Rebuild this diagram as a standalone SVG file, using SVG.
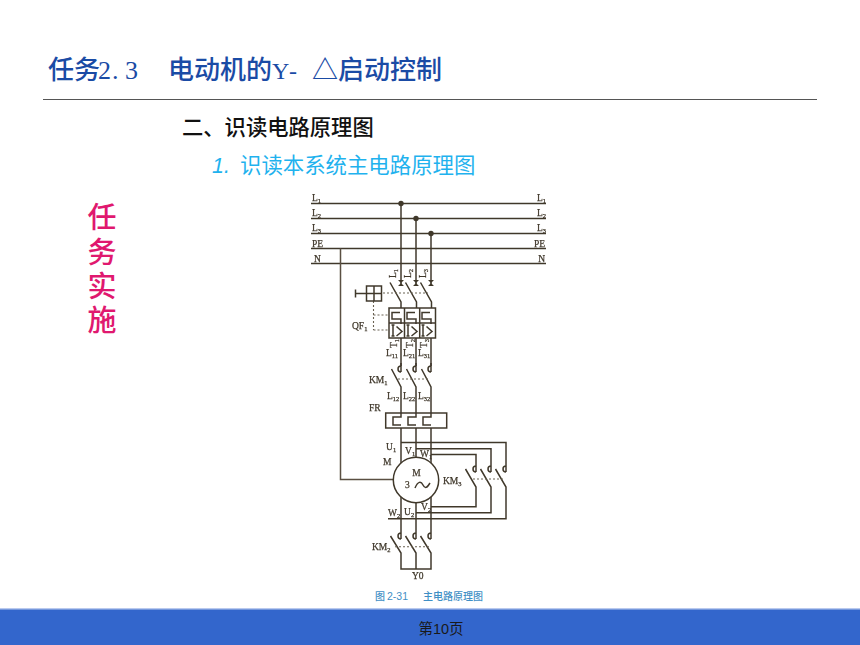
<svg xmlns="http://www.w3.org/2000/svg" xmlns:xlink="http://www.w3.org/1999/xlink" width="860" height="645" viewBox="0 0 860 645">
<style>
.cjk{font-family:"Noto Sans CJK SC","Noto Sans",sans-serif}
.ttl{fill:#1a4ba5;font-size:26px;font-weight:500}
.ttm{fill:#1a4ba5;font-family:"Liberation Serif",serif;font-size:26px;font-weight:500}
.sec{fill:#111;font-size:21.300px;font-weight:500}
.sub{fill:#1fb2ee;font-size:21.400px}
.side{fill:#e0186f;font-size:29px;font-weight:500;text-anchor:middle}
.w{fill:none;stroke:#5a5042;stroke-width:1.500}
.k{fill:none;stroke:#40392c;stroke-width:1.500}
.d{fill:none;stroke:#6a6252;stroke-width:1.100;stroke-dasharray:2 2}
.t{fill:#40392c;stroke:#40392c;stroke-width:.25;font-family:"Liberation Serif",serif;font-size:9.500px}
.t tspan{font-size:6.500px}
.e{text-anchor:end}
</style>
<defs>
<filter id="soft" x="0" y="0" width="100%" height="100%"><feGaussianBlur stdDeviation="0.35"/></filter>
<path id="contact" class="k" d="M0,-3a3,3 0 0 0 0,6M0,-6V3"/>
<path id="bow" fill="#40392c" d="M-3,-3H3L-3,3H3Z"/>
<g id="cell"><path class="k" d="M-1,4.500H-9V11H0V16"/><path class="k" d="M-8,17V28M-9.500,17H-6.500M-9.500,28H-6.500M-4.500,18.500L1,23.500L-4.500,28"/></g>
<path id="heater" class="k" d="M0,0V4H-8V12H0"/>
</defs>
<rect width="860" height="645" fill="#fff"/>
<g id="header">
<text class="cjk ttl" x="48" y="79">任务</text>
<text class="ttm" x="98 112 125" y="79">2.3</text>
<text class="cjk ttl" x="168" y="79">电动机的</text>
<text class="ttm" x="272 289" y="79" style="font-size:24px">Y-</text>
<text class="cjk ttl" x="312" y="79">△启动控制</text>
<line x1="43" y1="99.500" x2="817" y2="99.500" stroke="#555" stroke-width="1.200"/>
<text class="cjk sec" x="182" y="135">二、识读电路原理图</text>
<text class="sub" style="font-family:'Liberation Sans',sans-serif;font-style:italic" x="212" y="173">1.</text>
<text class="cjk sub" x="240" y="173">识读本系统主电路原理图</text>
</g>
<g id="side-label" class="cjk">
<text class="side" x="102 102 102 102" y="228 263 297 331">任务实施</text>
</g>
<g id="schematic" filter="url(#soft)">
<g id="connectors">
<path class="k" d="M311,203.500H546M311,218.500H546M311,233.500H546M311,248.500H546M311,263.500H546"/>
<path class="w" d="M340.500,248.500V479.500H393.500"/>
<path class="k" d="M401,203.500V285M416,218.500V285M431,233.500V285"/>
<path class="k" d="M390,282.500L401,302V308M405.500,282.500L416.500,302V308M420.500,282.500L431.500,302V308"/>
<path class="k" d="M401,338V366M416,338V366M431,338V366"/>
<path class="k" d="M391.500,369L401,387V413M406.500,369L416,387V413M421.500,369L431,387V413"/>
<path class="k" d="M401,428V463M416,428V457M431,428V463"/>
<path class="k" d="M401,442.500H506V463M416,448.700H491V463M431,454.500H476V463"/>
<path class="k" d="M465.500,469L476,487V506.700H431M480.500,469L491,487V512.700H416M495.500,469L506,487V518.700H388"/>
<path class="k" d="M401,497V530M416,503V530M431,497V530"/>
<path class="k" d="M390.500,536L401,553V569H431V553L420.500,536M405.500,536L416,553V569"/>
<path class="d" d="M383,293H428M373.500,301V330M373.500,315H389M373.500,330H389M398,379H428M473,479H505M395,546.700H430"/>
</g>
<g id="bus-labels">
<text class="t" x="312" y="201">L<tspan dy="2">1</tspan></text>
<text class="t" x="312" y="215.500">L<tspan dy="2">2</tspan></text>
<text class="t" x="312" y="230.500">L<tspan dy="2">3</tspan></text>
<text class="t" x="312" y="246.500">PE</text>
<text class="t" x="314" y="261.500">N</text>
<text class="t e" x="546" y="201">L<tspan dy="2">1</tspan></text>
<text class="t e" x="546" y="215.500">L<tspan dy="2">2</tspan></text>
<text class="t e" x="546" y="230.500">L<tspan dy="2">3</tspan></text>
<text class="t e" x="545" y="246.500">PE</text>
<text class="t e" x="545" y="261.500">N</text>
</g>
<g id="junctions" fill="#40392c">
<circle cx="401" cy="203.500" r="2.700"/>
<circle cx="416" cy="218.500" r="2.700"/>
<circle cx="431" cy="233.500" r="2.700"/>
</g>
<g id="qf1-input">
<use xlink:href="#bow" href="#bow" x="401" y="283"/>
<use xlink:href="#bow" href="#bow" x="416" y="283"/>
<use xlink:href="#bow" href="#bow" x="431" y="283"/>
<text class="t" transform="translate(396,278) rotate(-90)">L<tspan dy="2">1</tspan></text>
<text class="t" transform="translate(411,278) rotate(-90)">L<tspan dy="2">2</tspan></text>
<text class="t" transform="translate(426,278) rotate(-90)">L<tspan dy="2">3</tspan></text>
</g>
<g id="qf1-handle">
<path class="k" d="M355.500,289.500V297.500M355.500,293.500H366.500"/>
<rect class="k" x="366.500" y="286" width="15" height="15"/>
<path class="k" d="M374,286V301M366.500,293.500H381.500"/>
</g>
<g id="qf1-breaker">
<rect class="k" x="389" y="308" width="46.500" height="30"/>
<path class="k" d="M389,323H435.500M404.500,308V338M419.700,308V338"/>
<use xlink:href="#cell" href="#cell" x="401" y="308"/>
<use xlink:href="#cell" href="#cell" x="416" y="308"/>
<use xlink:href="#cell" href="#cell" x="431" y="308"/>
<text class="t" x="352" y="329">QF<tspan dy="2">1</tspan></text>
<text class="t" transform="translate(397,348) rotate(-90)">T<tspan dy="2">1</tspan></text>
<text class="t" transform="translate(413,348) rotate(-90)">T<tspan dy="2">2</tspan></text>
<text class="t" transform="translate(427,348) rotate(-90)">T<tspan dy="2">3</tspan></text>
<text class="t" x="386" y="356">L<tspan dy="2">11</tspan></text>
<text class="t" x="403" y="356">L<tspan dy="2">21</tspan></text>
<text class="t" x="418" y="356">L<tspan dy="2">31</tspan></text>
</g>
<g id="km1">
<use xlink:href="#contact" href="#contact" x="401" y="369"/>
<use xlink:href="#contact" href="#contact" x="416" y="369"/>
<use xlink:href="#contact" href="#contact" x="431" y="369"/>
<text class="t" x="369" y="383">KM<tspan dy="2">1</tspan></text>
<text class="t" x="387" y="399">L<tspan dy="2">12</tspan></text>
<text class="t" x="403" y="399">L<tspan dy="2">22</tspan></text>
<text class="t" x="418" y="399">L<tspan dy="2">32</tspan></text>
</g>
<g id="fr">
<rect class="k" x="385.700" y="413" width="61" height="15"/>
<use xlink:href="#heater" href="#heater" x="401" y="413"/>
<use xlink:href="#heater" href="#heater" x="416" y="413"/>
<use xlink:href="#heater" href="#heater" x="431" y="413"/>
<text class="t" x="369" y="411">FR</text>
</g>
<g id="motor">
<circle class="k" cx="416" cy="480" r="22.700"/>
<text class="t" x="416.500" y="476" text-anchor="middle">M</text>
<text class="t" x="405" y="488">3</text>
<path class="k" d="M415,488c3,-7 6,-7 8,-3s4,3 7,-2"/>
<text class="t" x="386" y="450">U<tspan dy="2">1</tspan></text>
<text class="t" x="383" y="465">M</text>
<text class="t" x="405" y="454">V<tspan dy="2">1</tspan></text>
<text class="t" x="420" y="457">W<tspan dy="2">1</tspan></text>
<text class="t" x="404" y="515">U<tspan dy="2">2</tspan></text>
<text class="t" x="421" y="510">V<tspan dy="2">2</tspan></text>
<text class="t" x="388" y="516">W<tspan dy="2">2</tspan></text>
</g>
<g id="km3">
<use xlink:href="#contact" href="#contact" x="476" y="469"/>
<use xlink:href="#contact" href="#contact" x="491" y="469"/>
<use xlink:href="#contact" href="#contact" x="506" y="469"/>
<text class="t" x="443" y="484">KM<tspan dy="2">3</tspan></text>
</g>
<g id="km2">
<use xlink:href="#contact" href="#contact" x="401" y="536"/>
<use xlink:href="#contact" href="#contact" x="416" y="536"/>
<use xlink:href="#contact" href="#contact" x="431" y="536"/>
<text class="t" x="372" y="550">KM<tspan dy="2">2</tspan></text>
<text class="t" x="412" y="579">Y0</text>
</g>
</g>
<g id="caption" fill="#3f8fc5">
<text class="cjk" x="375" y="600" font-size="10" font-weight="500">图</text>
<text x="387" y="600" font-size="10.500" font-family="'Liberation Sans',sans-serif">2-31</text>
<text class="cjk" x="423" y="600" font-size="10" font-weight="500">主电路原理图</text>
</g>
<g id="footer">
<rect x="0" y="608" width="860" height="37" fill="#3366cc"/>
<rect x="0" y="608" width="860" height="1.500" fill="#b9c9ee"/>
<text class="cjk" x="441" y="634" font-size="14.500" text-anchor="middle" fill="#1a1a1a">第<tspan font-family="'Liberation Sans',sans-serif">10</tspan>页</text>
</g>
</svg>
